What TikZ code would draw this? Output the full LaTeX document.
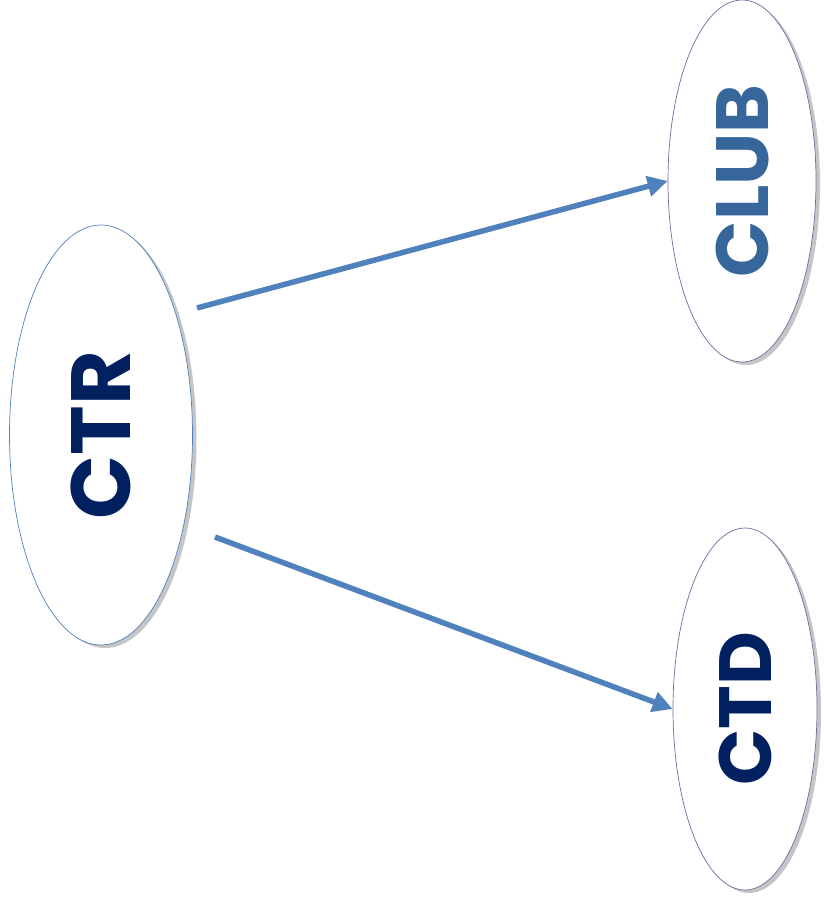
\documentclass[tikz,border=0pt]{standalone}
\usepackage{fontspec}
\setmainfont{Poppins}
\usepackage{tikz}
\usetikzlibrary{arrows.meta,shapes.geometric,shadows}

\begin{document}
\begin{tikzpicture}[x=1pt,y=1pt,
  bubble/.style={ellipse,draw=#1,line width=0.7pt,fill=white,inner sep=0pt,
    drop shadow={shadow xshift=4pt,shadow yshift=-3pt,opacity=0.5,fill=black!45}},
  link/.style={draw=arrowblue,line width=5.5pt,-{Triangle[length=20pt,width=20pt]}}]
  \definecolor{arrowblue}{HTML}{4F81BD};
  \definecolor{navy}{HTML}{002060};
  \definecolor{clubblue}{HTML}{37669A};
  \definecolor{rim}{HTML}{8064A2};
  \useasboundingbox (0,0) rectangle (823,-899);
	\node [bubble=arrowblue,minimum width=183,minimum height=420,text=navy] (ctr) at (101,-435)
	  {\rotatebox{90}{\fontsize{84}{84}\selectfont\bfseries CTR}};
	\node [bubble=rim,minimum width=148,minimum height=362,text=clubblue] (club) at (742,-181)
	  {\rotatebox{90}{\fontsize{74}{74}\selectfont\bfseries CLUB}};
	\node [bubble=rim,minimum width=144,minimum height=362,text=navy] (ctd) at (745,-709)
	  {\rotatebox{90}{\fontsize{74}{74}\selectfont\bfseries CTD}};
	\coordinate (ctr-up) at (197,-308);
	\coordinate (ctr-down) at (215,-537);
	\draw [link] (ctr-up) -- (club.west);
	\draw [link] (ctr-down) -- (ctd.west);
\end{tikzpicture}
\end{document}
